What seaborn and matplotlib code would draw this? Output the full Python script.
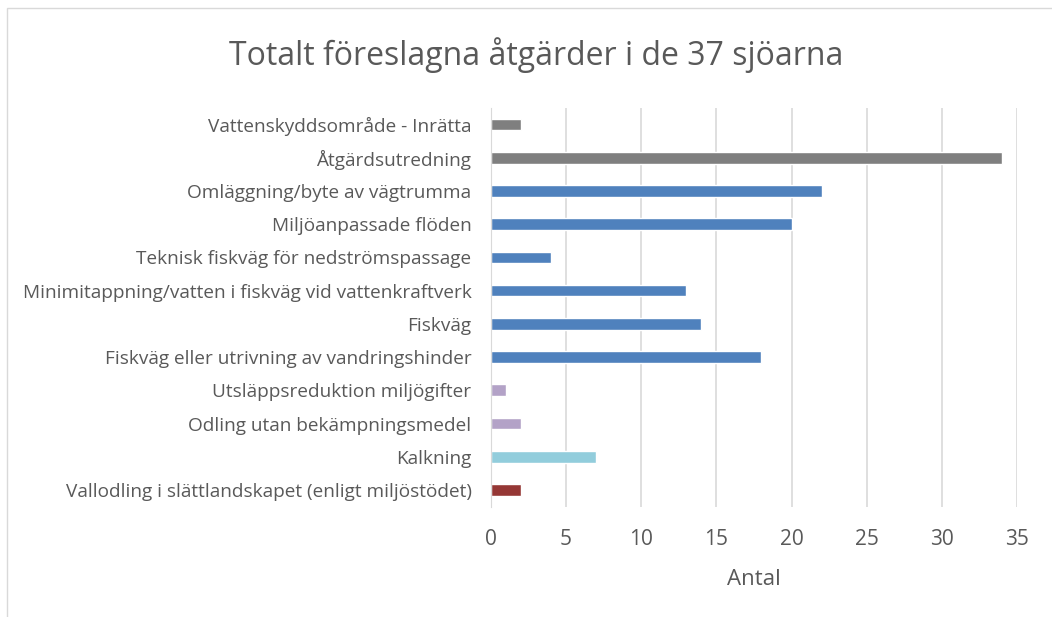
import matplotlib
matplotlib.use('Agg')
import matplotlib.pyplot as plt
import seaborn as sns
import pandas as pd
from matplotlib.patches import Rectangle

categories = [
    'Vattenskyddsområde - Inrätta',
    'Åtgärdsutredning',
    'Omläggning/byte av vägtrumma',
    'Miljöanpassade flöden',
    'Teknisk fiskväg för nedströmspassage',
    'Minimitappning/vatten i fiskväg vid vattenkraftverk',
    'Fiskväg',
    'Fiskväg eller utrivning av vandringshinder',
    'Utsläppsreduktion miljögifter',
    'Odling utan bekämpningsmedel',
    'Kalkning',
    'Vallodling i slättlandskapet (enligt miljöstödet)',
]
values = [2, 34, 22, 20, 4, 13, 14, 18, 1, 2, 7, 2]
colors = ['#7f7f7f', '#7f7f7f', '#4f81bd', '#4f81bd', '#4f81bd', '#4f81bd',
          '#4f81bd', '#4f81bd', '#b3a2c7', '#b3a2c7', '#92cddc', '#953735']

df = pd.DataFrame({'kategori': categories, 'antal': values})

sns.set_style('white')
plt.rcParams['font.family'] = ['Open Sans', 'DejaVu Sans']

fig = plt.figure(figsize=(10.52, 6.17), dpi=100)
ax = fig.add_axes([0.4667, 0.179, 0.5, 0.646])

sns.barplot(data=df, x='antal', y='kategori', hue='kategori',
            palette=dict(zip(categories, colors)), legend=False,
            width=0.35, saturation=1, ax=ax)

ax.set_xlim(0, 35)
ax.set_xticks(range(0, 36, 5))
ax.grid(axis='x', color='#d9d9d9', linewidth=1.2)
ax.set_axisbelow(True)
for s in ['top', 'right', 'bottom']:
    ax.spines[s].set_visible(False)
ax.spines['left'].set_color('#d9d9d9')
ax.tick_params(axis='x', colors='#595959', labelsize=15, length=4.5,
               color='#d9d9d9', pad=12)
ax.tick_params(axis='y', colors='#595959', labelsize=13.7, length=0, pad=14)
ax.set_ylabel('')
ax.set_xlabel('Antal', fontsize=16, color='#595959', labelpad=13)

fig.suptitle('Totalt föreslagna åtgärder i de 37 sjöarna', fontsize=23,
             color='#595959', x=0.5095, y=0.94)

fig.patches.append(Rectangle((7 / 1052, -0.1), 1.2, 1.1 - 8 / 617,
                             transform=fig.transFigure, fill=False,
                             edgecolor='#d9d9d9', linewidth=1))

fig.savefig('out.png', dpi=100)
